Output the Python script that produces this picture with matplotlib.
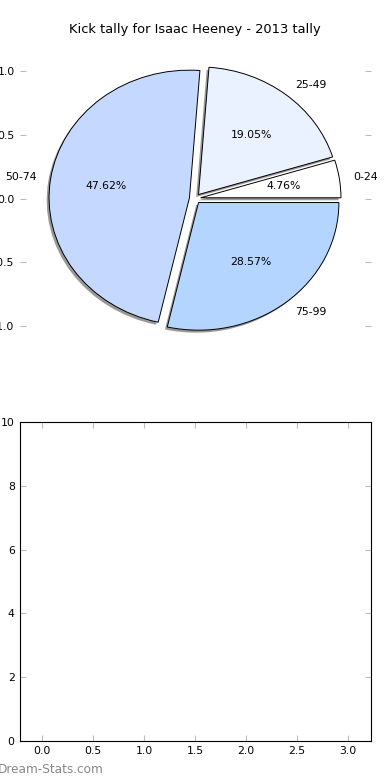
import matplotlib
matplotlib.use("Agg")
import matplotlib.pyplot as plt

# ============================================
# Kick tally pie (Isaac Heeney, 2013)
# ============================================

labels = ["0-24", "25-49", "50-74", "75-99"]
kicks = [1, 4, 10, 6]
colors = ["#FFFFFF", "#EBF2FF", "#C5D8FF", "#B3D5FF"]
explode = [0.04, 0.04, 0.04, 0.04]

pie_yticks = [-1.0, -0.5, 0.0, 0.5, 1.0]
bar_xticks = [0.0, 0.5, 1.0, 1.5, 2.0, 2.5, 3.0]
bar_yticks = [0, 2, 4, 6, 8, 10]

plt.rcParams["font.family"] = "DejaVu Sans"

fig = plt.figure(figsize=(3.9, 7.8), dpi=100)
fig.subplots_adjust(left=0.05, right=0.95, top=0.95, bottom=0.05, hspace=0.2)

# --- pie ---
ax1 = fig.add_subplot(2, 1, 1)
wedges, texts, autotexts = ax1.pie(
    kicks, labels=labels, colors=colors, explode=explode,
    autopct="%1.2f%%", startangle=0, counterclock=True,
    shadow={"ox": -0.012, "oy": -0.014, "facecolor": "#808080",
            "edgecolor": "none", "alpha": 0.8},
    wedgeprops={"edgecolor": "black", "linewidth": 0.7},
    textprops={"fontsize": 7.8},
)
ax1.set_aspect("auto")
ax1.set_xlim(-1.25, 1.25)
ax1.set_ylim(-1.25, 1.25)
ax1.set_frame_on(False)
ax1.set_xticks([])
ax1.set_yticks(pie_yticks)
ax1.tick_params(axis="y", direction="in", length=4, color="#BBBBBB",
                labelsize=7.8, right=True, left=True)
ax1.set_title("Kick tally for Isaac Heeney - 2013 tally", fontsize=9.4, pad=4)

# --- empty bar axes ---
ax2 = fig.add_subplot(2, 1, 2)
ax2.set_xlim(-0.22, 3.22)
ax2.set_ylim(0, 10)
ax2.set_xticks(bar_xticks)
ax2.set_yticks(bar_yticks)
ax2.tick_params(direction="in", length=4, color="#BBBBBB", labelsize=7.8,
                top=True, right=True)
for s in ax2.spines.values():
    s.set_linewidth(0.8)

fig.text(-0.005, 0.009, "Dream-Stats.com", fontsize=8.7, color="#888888")

plt.savefig("out.png", dpi=100)
